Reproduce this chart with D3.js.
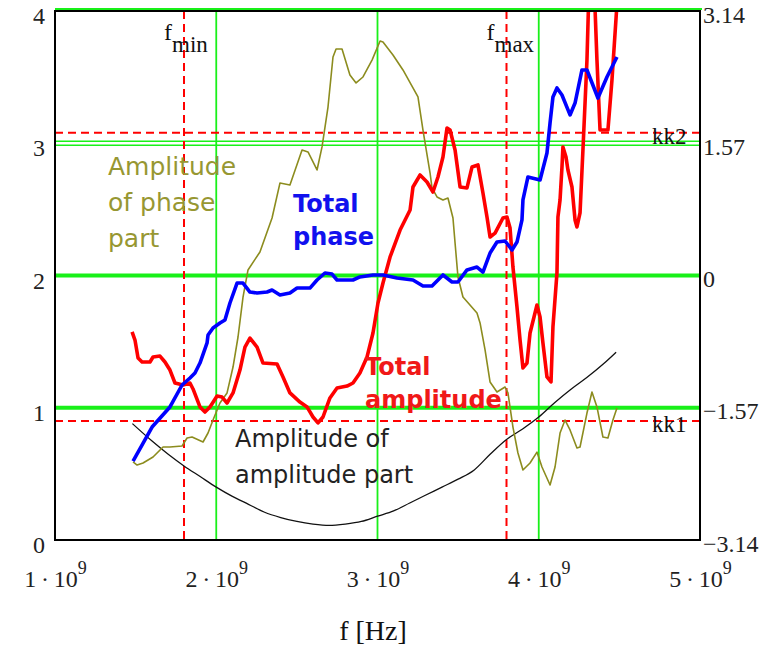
<!DOCTYPE html>
<html>
<head>
<meta charset="utf-8">
<script src="https://cdn.jsdelivr.net/npm/d3@7"></script>
<style>
  html, body { margin: 0; padding: 0; background: #fff; }
  svg { display: block; }
</style>
</head>
<body>
<svg id="chart" width="765" height="652"></svg>
<script>
// ---------- data (frequency in GHz, values in left-axis units) ----------
const xTicks = [1e9, 2e9, 3e9, 4e9, 5e9];
const xTickMantissa = ["1", "2", "3", "4", "5"];
const yLeftTicks = [0, 1, 2, 3, 4];
const yRightTicks = [-3.14, -1.57, 0, 1.57, 3.14];
const yRightLabels = ["\u22123.14", "\u22121.57", "0", "1.57", "3.14"];

const greenThick = [1, 2];          // left-axis values (= -1.57 and 0 rad)
const greenDouble = [3];            // left 3 / right 1.57
const greenVertical = [2e9, 3e9, 4e9];
const fMarkers = [{ name: "min", f: 1.8e9 }, { name: "max", f: 3.8e9 }];
const kMarkers = [{ name: "kk1", v: 0.9 }, { name: "kk2", v: 3.08 }];

// Total phase (blue)
const phaseF = [1.484,1.602,1.713,1.788,1.837,1.868,1.899,1.943,1.949,1.980,2.023,2.054,2.085,2.129,2.166,2.209,2.253,2.315,2.346,2.395,2.457,2.501,2.581,2.625,2.674,2.718,2.749,2.848,2.891,2.972,3.034,3.121,3.220,3.282,3.338,3.406,3.462,3.499,3.555,3.617,3.654,3.698,3.741,3.791,3.834,3.865,3.896,3.902,3.933,4.008,4.051,4.070,4.088,4.113,4.144,4.194,4.225,4.268,4.299,4.367,4.423,4.485];
const phaseV = [0.597,0.854,1.006,1.172,1.225,1.263,1.338,1.490,1.550,1.603,1.641,1.664,1.792,1.943,1.943,1.875,1.868,1.875,1.890,1.853,1.868,1.905,1.905,1.966,2.019,2.011,1.966,1.966,1.989,2.004,2.004,1.981,1.966,1.921,1.921,2.004,1.951,1.951,2.042,2.064,2.026,2.170,2.253,2.261,2.193,2.253,2.420,2.571,2.745,2.722,2.926,3.153,3.350,3.418,3.365,3.214,3.304,3.554,3.554,3.342,3.501,3.652];

// Total amplitude (red)
const ampF = [1.478,1.496,1.515,1.540,1.589,1.608,1.651,1.682,1.713,1.744,1.794,1.837,1.856,1.899,1.930,1.961,2.005,2.036,2.067,2.104,2.147,2.178,2.209,2.253,2.290,2.377,2.414,2.457,2.519,2.563,2.600,2.631,2.662,2.705,2.749,2.811,2.848,2.891,2.935,2.972,3.003,3.034,3.078,3.140,3.202,3.220,3.264,3.307,3.344,3.375,3.406,3.431,3.450,3.481,3.512,3.555,3.586,3.623,3.654,3.679,3.698,3.729,3.778,3.803,3.822,3.840,3.865,3.884,3.902,3.927,3.946,3.989,4.008,4.026,4.051,4.076,4.088,4.113,4.119,4.132,4.144,4.150,4.169,4.181,4.206,4.225,4.237,4.256,4.274,4.299,4.311,4.345,4.361,4.380,4.429,4.454,4.485];
const ampV = [1.573,1.512,1.376,1.346,1.346,1.384,1.391,1.346,1.285,1.187,1.172,1.187,1.142,1.006,0.968,1.006,1.089,1.081,1.036,1.112,1.285,1.459,1.527,1.459,1.338,1.331,1.233,1.112,1.043,1.006,0.930,0.885,0.930,1.074,1.149,1.164,1.187,1.263,1.384,1.565,1.792,1.943,2.140,2.344,2.495,2.669,2.760,2.707,2.631,2.745,2.896,3.115,3.100,2.949,2.669,2.662,2.820,2.836,2.624,2.442,2.291,2.321,2.435,2.442,2.359,2.064,1.762,1.512,1.301,1.338,1.565,1.777,1.686,1.490,1.233,1.195,1.611,2.019,2.442,2.571,2.820,2.972,2.896,2.798,2.669,2.420,2.367,2.473,2.949,3.629,4.150,4.150,3.629,3.100,3.100,3.478,4.050];

// Amplitude of phase part (olive)
const phPartF = [1.484,1.509,1.546,1.608,1.670,1.713,1.788,1.819,1.850,1.918,1.949,1.980,2.023,2.067,2.104,2.135,2.166,2.197,2.271,2.346,2.395,2.457,2.532,2.569,2.625,2.656,2.693,2.724,2.743,2.780,2.829,2.867,2.910,2.966,3.016,3.034,3.096,3.158,3.220,3.251,3.282,3.326,3.338,3.369,3.406,3.437,3.468,3.481,3.499,3.530,3.617,3.636,3.667,3.698,3.741,3.791,3.809,3.840,3.871,3.902,3.946,3.989,4.020,4.070,4.101,4.132,4.163,4.194,4.237,4.256,4.299,4.330,4.361,4.398,4.429,4.460,4.485];
const phPartV = [0.590,0.567,0.582,0.628,0.703,0.703,0.711,0.771,0.779,0.741,0.809,0.907,1.036,1.112,1.308,1.535,1.837,2.042,2.178,2.435,2.699,2.684,2.949,2.934,2.798,2.972,3.274,3.652,3.713,3.713,3.516,3.456,3.501,3.629,3.773,3.766,3.667,3.554,3.418,3.350,3.100,2.775,2.662,2.594,2.571,2.586,2.435,2.246,1.989,1.837,1.716,1.641,1.437,1.195,1.119,1.157,1.112,0.854,0.658,0.529,0.582,0.665,0.552,0.416,0.552,0.809,0.907,0.832,0.696,0.703,0.960,1.119,1.006,0.779,0.771,0.907,0.998];

// Amplitude of amplitude part (black)
const amPartF = [1.48,1.6,1.7,1.8,1.9,2.0,2.1,2.2,2.3,2.4,2.5,2.6,2.7,2.8,2.9,3.0,3.1,3.2,3.3,3.4,3.5,3.6,3.7,3.8,3.9,4.0,4.1,4.2,4.3,4.4,4.48];
const amPartV = [0.88,0.75,0.65,0.56,0.48,0.40,0.33,0.27,0.21,0.17,0.14,0.12,0.11,0.12,0.14,0.18,0.22,0.28,0.34,0.40,0.46,0.53,0.65,0.76,0.84,0.93,1.04,1.14,1.23,1.33,1.42];

// ---------- chart ----------
const svg = d3.select("#chart");
const L = 55, R = 700, T = 11, B = 540;
const x = d3.scaleLinear().domain([1e9, 5e9]).range([L, R]);
const yL = d3.scaleLinear().domain([0, 4]).range([B, T]);
const yR = d3.scaleLinear().domain([-3.14, 3.14]).range([B, T]);

const GREEN = "#19f019", RED = "#ff0000", BLUE = "#0000ff", OLIVE = "#8c8c1e";
const serif = "'Liberation Serif', 'Times New Roman', serif";
const sans = "'DejaVu Sans', Verdana, sans-serif";

svg.append("defs").append("clipPath").attr("id", "plotclip")
  .append("rect").attr("x", L).attr("y", T).attr("width", R - L).attr("height", B - T);

// green grid
const grid = svg.append("g");
grid.selectAll("line.gv").data(greenVertical).join("line")
  .attr("x1", d => x(d)).attr("x2", d => x(d)).attr("y1", T).attr("y2", B)
  .attr("stroke", GREEN).attr("stroke-width", 1.8);
grid.selectAll("line.gt").data(greenThick).join("line")
  .attr("x1", L).attr("x2", R).attr("y1", d => yL(d)).attr("y2", d => yL(d))
  .attr("stroke", GREEN).attr("stroke-width", 4.2);
greenDouble.forEach(v => {
  [-2, 2].forEach(o => {
    grid.append("line").attr("x1", L).attr("x2", R)
      .attr("y1", yL(v) + o).attr("y2", yL(v) + o)
      .attr("stroke", GREEN).attr("stroke-width", 1.6);
  });
});
grid.append("line").attr("x1", L).attr("x2", R + 2).attr("y1", yR(3.14) - 2).attr("y2", yR(3.14) - 2)
  .attr("stroke", GREEN).attr("stroke-width", 2.2);

// red dashed markers
const mk = svg.append("g");
mk.selectAll("line.fm").data(fMarkers).join("line")
  .attr("x1", d => x(d.f)).attr("x2", d => x(d.f)).attr("y1", T).attr("y2", B)
  .attr("stroke", RED).attr("stroke-width", 2).attr("stroke-dasharray", "8,5");
mk.selectAll("line.km").data(kMarkers).join("line")
  .attr("x1", L).attr("x2", R).attr("y1", d => yL(d.v)).attr("y2", d => yL(d.v))
  .attr("stroke", RED).attr("stroke-width", 2).attr("stroke-dasharray", "8,5");

// series
const line = d3.line().x(d => x(d[0] * 1e9)).y(d => yL(d[1]));
const zip = (a, b) => a.map((v, i) => [v, b[i]]);
const plot = svg.append("g").attr("clip-path", "url(#plotclip)");
plot.append("path").datum(zip(amPartF, amPartV)).attr("d", line.curve(d3.curveMonotoneX))
  .attr("fill", "none").attr("stroke", "#111").attr("stroke-width", 1.3);
line.curve(d3.curveLinear);
plot.append("path").datum(zip(phPartF, phPartV)).attr("d", line)
  .attr("fill", "none").attr("stroke", OLIVE).attr("stroke-width", 1.6).attr("stroke-linejoin", "round");
plot.append("path").datum(zip(ampF, ampV)).attr("d", line)
  .attr("fill", "none").attr("stroke", RED).attr("stroke-width", 3.6).attr("stroke-linejoin", "round");
plot.append("path").datum(zip(phaseF, phaseV)).attr("d", line)
  .attr("fill", "none").attr("stroke", BLUE).attr("stroke-width", 3.6).attr("stroke-linejoin", "round");

// frame
svg.append("rect").attr("x", L).attr("y", T).attr("width", R - L).attr("height", B - T)
  .attr("fill", "none").attr("stroke", "#000").attr("stroke-width", 2);

// axes
const xAxis = svg.append("g").attr("transform", `translate(0,${B})`)
  .call(d3.axisBottom(x).tickValues(xTicks).tickSize(0).tickFormat(""));
xAxis.select(".domain").remove();
xAxis.selectAll(".tick text").each(function (d, i) {
  const t = d3.select(this).attr("y", 47).attr("dy", 0)
    .attr("font-family", serif).attr("font-size", 24).attr("fill", "#222").text(null);
  t.append("tspan").text(xTickMantissa[i] + "\u2009\u00b7\u200910");
  t.append("tspan").attr("dy", -13).attr("font-size", 18).text("9");
});

const yAxisL = svg.append("g").attr("transform", `translate(${L},0)`)
  .call(d3.axisLeft(yL).tickValues(yLeftTicks).tickSize(0).tickPadding(10).tickFormat(d3.format("d")));
yAxisL.select(".domain").remove();
yAxisL.selectAll(".tick text").attr("dy", 12.5)
  .attr("font-family", serif).attr("font-size", 24).attr("fill", "#222");

const yAxisR = svg.append("g").attr("transform", `translate(${R},0)`)
  .call(d3.axisRight(yR).tickValues(yRightTicks).tickSize(0).tickPadding(3)
    .tickFormat((d, i) => yRightLabels[i]));
yAxisR.select(".domain").remove();
yAxisR.selectAll(".tick text").attr("dy", 11)
  .attr("font-family", serif).attr("font-size", 24).attr("fill", "#222");

// marker labels
const lab = svg.append("g").attr("font-family", serif).attr("fill", "#111");
fMarkers.forEach(m => {
  const t = lab.append("text").attr("x", x(m.f) - 20).attr("y", 40).attr("font-size", 24);
  t.append("tspan").text("f");
  t.append("tspan").attr("dy", 12).attr("font-size", 23).text(m.name);
});
kMarkers.forEach(m => {
  lab.append("text").attr("x", 652).attr("y", yL(m.v) + (m.name === "kk2" ? 11 : 11))
    .attr("font-size", 23).text(m.name);
});

// axis title
svg.append("text").attr("x", 373).attr("y", 640).attr("text-anchor", "middle")
  .attr("font-family", serif).attr("font-size", 28).attr("fill", "#111").text("f [Hz]");

// annotations
const ann = [
  { lines: ["Amplitude", "of phase", "part"], x: 108, y: 175, dy: 36, color: "#979732", weight: "normal", size: 25 },
  { lines: ["Total", "phase"], x: 293, y: 212, dy: 33, color: "#1111ee", weight: "bold", size: 24 },
  { lines: ["Total", "amplitude"], x: 365, y: 375, dy: 33, color: "#f01818", weight: "bold", size: 24 },
  { lines: ["Amplitude of", "amplitude part"], x: 235, y: 447, dy: 36, color: "#222", weight: "normal", size: 24 }
];
ann.forEach(a => {
  const t = svg.append("text").attr("font-family", sans).attr("font-size", a.size)
    .attr("font-weight", a.weight).attr("fill", a.color);
  a.lines.forEach((s, i) => t.append("tspan").attr("x", a.x).attr("y", a.y + i * a.dy).text(s));
});
</script>
</body>
</html>
